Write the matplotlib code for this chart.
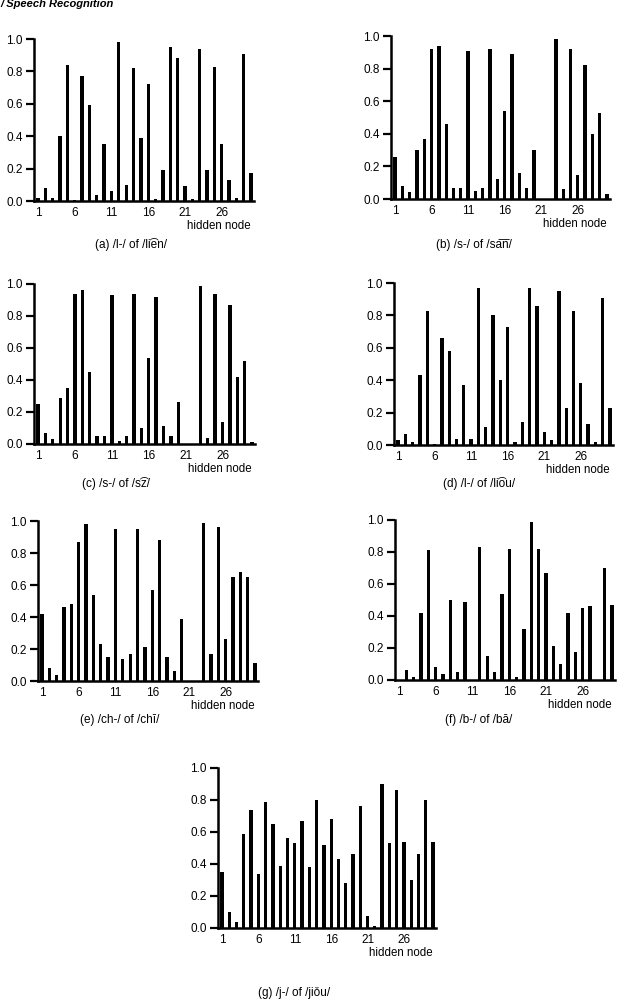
import numpy as np
import matplotlib
matplotlib.use('Agg')
import matplotlib.pyplot as plt

plt.rcParams['font.family'] = ['Liberation Sans', 'DejaVu Sans']

# hidden node activations
nodes = np.arange(1, 31)

vals_a = [0.02, 0.08, 0.02, 0.40, 0.84, 0.005, 0.77, 0.59, 0.04, 0.35,
          0.06, 0.98, 0.10, 0.82, 0.39, 0.72, 0.01, 0.19, 0.95, 0.88,
          0.09, 0.01, 0.94, 0.19, 0.83, 0.35, 0.13, 0.02, 0.91, 0.17]
vals_b = [0.26, 0.08, 0.04, 0.30, 0.37, 0.92, 0.94, 0.46, 0.07, 0.07,
          0.91, 0.05, 0.07, 0.92, 0.12, 0.54, 0.89, 0.16, 0.07, 0.30,
          0.0, 0.0, 0.98, 0.06, 0.92, 0.15, 0.82, 0.40, 0.53, 0.03]
vals_c = [0.25, 0.07, 0.03, 0.29, 0.35, 0.94, 0.96, 0.45, 0.05, 0.05,
          0.93, 0.02, 0.05, 0.94, 0.10, 0.54, 0.92, 0.11, 0.05, 0.26,
          0.0, 0.0, 0.99, 0.04, 0.94, 0.14, 0.87, 0.42, 0.52, 0.01]
vals_d = [0.03, 0.07, 0.02, 0.43, 0.83, 0.005, 0.66, 0.58, 0.04, 0.37,
          0.04, 0.97, 0.11, 0.80, 0.40, 0.73, 0.02, 0.14, 0.97, 0.86,
          0.08, 0.03, 0.95, 0.23, 0.83, 0.38, 0.13, 0.02, 0.91, 0.23]
vals_e = [0.42, 0.08, 0.04, 0.46, 0.48, 0.87, 0.98, 0.54, 0.23, 0.15,
          0.95, 0.14, 0.17, 0.95, 0.21, 0.57, 0.88, 0.15, 0.06, 0.39,
          0.0, 0.0, 0.99, 0.17, 0.96, 0.26, 0.65, 0.68, 0.65, 0.11]
vals_f = [0.0, 0.06, 0.02, 0.42, 0.81, 0.08, 0.04, 0.50, 0.05, 0.49,
          0.0, 0.83, 0.15, 0.05, 0.54, 0.82, 0.02, 0.32, 0.99, 0.82,
          0.67, 0.21, 0.10, 0.42, 0.175, 0.45, 0.46, 0.0, 0.70, 0.47]
vals_g = [0.35, 0.10, 0.04, 0.59, 0.74, 0.34, 0.79, 0.65, 0.39, 0.56,
          0.53, 0.67, 0.38, 0.80, 0.52, 0.68, 0.43, 0.28, 0.46, 0.76,
          0.075, 0.015, 0.90, 0.53, 0.86, 0.54, 0.30, 0.46, 0.80, 0.54]

captions = ['(a) /l-/ of /li\u0361en/', '(b) /s-/ of /sa\u035en/',
            '(c) /s-/ of /s\u0361z/', '(d) /l-/ of /li\u0361ou/',
            '(e) /ch-/ of /chī/', '(f) /b-/ of /bā/', '(g) /j-/ of /jiǒu/']
xtick_vals = [1, 6, 11, 16, 21, 26]
ytick_vals = [0.0, 0.2, 0.4, 0.6, 0.8, 1.0]

all_vals = [vals_a, vals_b, vals_c, vals_d, vals_e, vals_f, vals_g]

# axes boxes in pixels: left, right, top, bottom
boxes = [(34, 254, 39, 201), (391, 610, 36, 199),
         (34, 255, 284, 444), (394, 613, 283, 445),
         (38, 258, 521, 681), (395, 615, 520, 680),
         (218, 436, 768, 928)]
# caption offsets (x in axes fraction, y pixels below the axis)
cap_x = [0.44, 0.38, 0.37, 0.39, 0.37, 0.38, 0.35]
cap_dy = [44, 46, 40, 39, 39, 40, 65]

W, H = 629, 999
fig = plt.figure(figsize=(W / 100, H / 100), dpi=100)

for vals, box, cap, cx, cdy in zip(all_vals, boxes, captions, cap_x, cap_dy):
    l, r, t, b = box
    ax = fig.add_axes([l / W, 1 - b / H, (r - l) / W, (b - t) / H])
    ax.bar(nodes, vals, width=0.45, color='black')
    ax.set_xlim(0.45, 30.4)
    ax.set_ylim(0, 1.0)
    ax.spines['top'].set_visible(False)
    ax.spines['right'].set_visible(False)
    ax.spines['left'].set_linewidth(1.8)
    ax.spines['bottom'].set_linewidth(1.8)
    ax.set_yticks(ytick_vals)
    ax.set_yticklabels(['%.1f' % v for v in ytick_vals])
    ax.set_xticks(xtick_vals)
    ax.tick_params(axis='y', length=6, width=1.6, pad=2, labelsize=8.5)
    ax.tick_params(axis='x', length=0, pad=4, labelsize=8.5)
    h = b - t
    ax.text(0.84, -25 / h, 'hidden node', transform=ax.transAxes,
            ha='center', va='center', fontsize=8.3)
    ax.text(cx, -cdy / h, cap, transform=ax.transAxes,
            ha='center', va='center', fontsize=8.5)

# running header, cut off at the top of the page
fig.text(0.0, 0.996, '/ Speech Recognition', ha='left', va='center',
         fontsize=8, style='italic', fontweight='bold')

fig.savefig('out.png', dpi=100)
